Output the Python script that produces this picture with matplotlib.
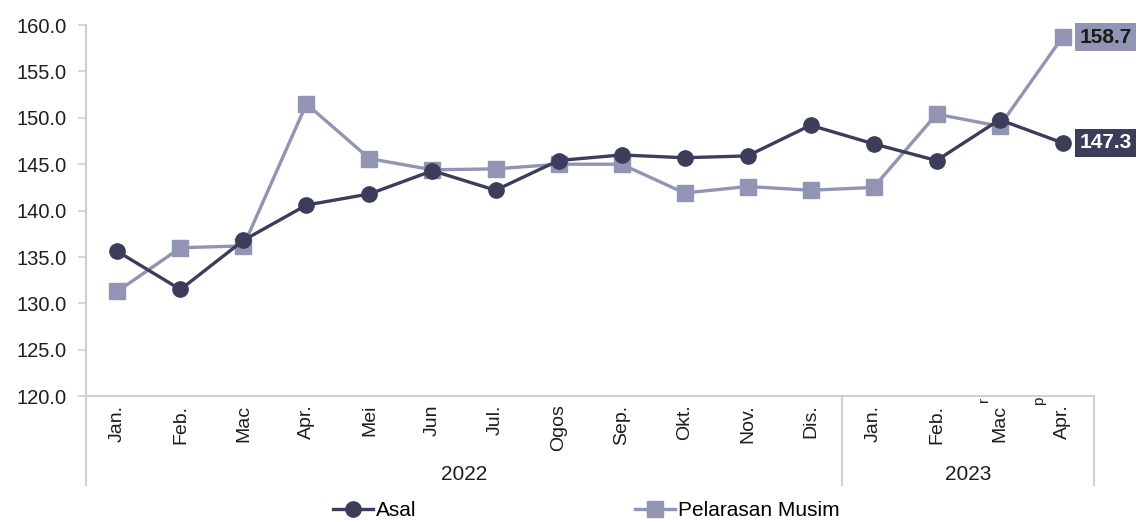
import matplotlib
matplotlib.use("Agg")
import matplotlib.pyplot as plt
import matplotlib.transforms as mtrans

plt.rcParams["font.family"] = ["Liberation Sans", "DejaVu Sans"]

months = ["Jan.", "Feb.", "Mac", "Apr.", "Mei", "Jun", "Jul.", "Ogos",
          "Sep.", "Okt.", "Nov.", "Dis.", "Jan.", "Feb.", "Mac", "Apr."]
years = ["2022", "2023"]
year_counts = [12, 4]
asal = [135.6, 131.5, 136.8, 140.6, 141.8, 144.3, 142.2, 145.4,
        146.0, 145.7, 145.9, 149.2, 147.2, 145.4, 149.8, 147.3]
pelarasan = [131.3, 136.0, 136.2, 151.5, 145.6, 144.4, 144.5, 145.0,
             145.0, 141.9, 142.6, 142.2, 142.5, 150.4, 149.1, 158.7]

DARK = "#3b3d5b"
LIGHT = "#9294b4"
AXIS = "#d0d0d0"
TXT = "#1e1e1e"

fig = plt.figure(figsize=(11.43, 5.22), dpi=100)
ax = fig.add_axes([0.0752, 0.241, 0.882, 0.711])

x = list(range(len(months)))
ax.plot(x, asal, color=DARK, lw=2.4, marker="o", ms=11, label="Asal", zorder=3)
ax.plot(x, pelarasan, color=LIGHT, lw=2.4, marker="s", ms=11,
        label="Pelarasan Musim", zorder=2)

ax.set_xlim(-0.5, len(months) - 0.5)
ax.set_ylim(120, 160)
ax.set_yticks([120, 125, 130, 135, 140, 145, 150, 155, 160])
ax.set_yticklabels([f"{v:.1f}" for v in ax.get_yticks()], fontsize=14.5, color=TXT)
ax.set_xticks(x)
ax.set_xticklabels(months, rotation=90, fontsize=14, color=TXT, va="top")
ax.tick_params(axis="x", length=0, pad=6)
ax.tick_params(axis="y", length=6, color=AXIS, width=1.2, pad=8)

for s in ["top", "right"]:
    ax.spines[s].set_visible(False)
for s in ["left", "bottom"]:
    ax.spines[s].set_color(AXIS)
    ax.spines[s].set_linewidth(1.5)

# year grouping
tr = mtrans.blended_transform_factory(ax.transData, ax.transAxes)
bounds = [-0.5]
for n in year_counts:
    bounds.append(bounds[-1] + n)
for b in bounds:
    ax.plot([b, b], [0, -0.24], transform=tr, color=AXIS, lw=1.5, clip_on=False)
for i, yr in enumerate(years):
    ax.text((bounds[i] + bounds[i + 1]) / 2, -0.21, yr, transform=tr,
            ha="center", va="center", fontsize=15, color=TXT)

# revision marks
ax.text(13.75, -0.002, "r", transform=tr, rotation=90, fontsize=11,
        ha="center", va="top", color=TXT)
ax.text(14.62, -0.002, "p", transform=tr, rotation=90, fontsize=11,
        ha="center", va="top", color=TXT)

# end labels
ax.annotate(f"{pelarasan[-1]:.1f}", (x[-1], pelarasan[-1]), xytext=(12, 0),
            textcoords="offset points", va="center", ha="left", fontsize=15,
            fontweight="bold", color="#1a1a1a", annotation_clip=False,
            bbox=dict(boxstyle="square,pad=0.22", fc=LIGHT, ec="none"))
ax.annotate(f"{asal[-1]:.1f}", (x[-1], asal[-1]), xytext=(12, 0),
            textcoords="offset points", va="center", ha="left", fontsize=15,
            fontweight="bold", color="white", annotation_clip=False,
            bbox=dict(boxstyle="square,pad=0.22", fc=DARK, ec="none"))

fig.legend(loc="lower center", bbox_to_anchor=(0.513, -0.032), ncol=2,
           frameon=False, fontsize=15, handlelength=1.9, handletextpad=0.15,
           columnspacing=10.5)

fig.savefig("out.png", dpi=100)
